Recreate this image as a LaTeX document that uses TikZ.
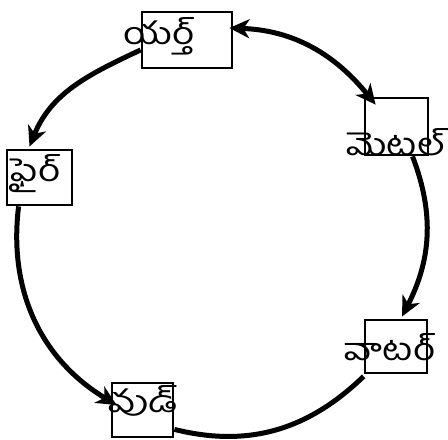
\documentclass[tikz,border=0pt]{standalone}
\usepackage{fontspec}
\newfontfamily\telugu[Script=Telugu,FakeStretch=1.25]{Hind Guntur}
\usetikzlibrary{arrows.meta,calc}
\begin{document}
\begin{tikzpicture}[x=1bp,y=1bp,
  box/.style={draw,line width=2.8bp,inner sep=0pt,minimum width=#1},
  lbl/.style={inner sep=0pt,font=\telugu\fontsize{31}{33}\selectfont},
  conn/.style={line width=5bp,-{Stealth[length=20bp,width=19bp,inset=6bp]}},
  plain/.style={line width=5bp}]
\useasboundingbox (0,0) rectangle (448,440);
% boxes
\node[box=90bp,minimum height=56bp] (earth) at (187,400) {};
\node[box=63bp,minimum height=57bp] (metal) at (396.5,313.5) {};
\node[box=62bp,minimum height=53bp] (water) at (396,93.5) {};
\node[box=61bp,minimum height=54bp] (wood) at (142.5,30) {};
\node[box=65bp,minimum height=55bp] (fire) at (39.5,262.5) {};
% labels
\node[lbl] (earthT) at (159,404) {యర్త్};
\node[lbl] (metalT) at (396,298) {మెటల్};
\node[lbl] (waterT) at (390,93) {వాటర్};
\node[lbl] (woodT) at (143,39) {వుడ్};
\node[lbl] (fireT) at (35,266) {ఫైర్};
% connectors
\draw[line width=5bp,{Stealth[length=20bp,width=19bp,inset=6bp]}-{Stealth[length=20bp,width=19bp,inset=6bp]}]
  ($(earth.east)+(-4,12)$) to[out=-2,in=129] ($(metal.north west)+(12,-8)$);
\draw[conn] ($(metal.south)+(16,0)$) to[out=-69,in=63] ($(water.north)+(6,2)$);
\draw[conn] ($(earth.west)+(0,-10)$) to[out=205,in=68] ($(fire.north)+(-10,2)$);
\draw[conn] ($(fire.south west)+(13,0)$) to[out=-97,in=149] ($(wood.west)+(6,5)$);
\draw[plain] ($(wood.south east)+(0,9)$) to[out=-14,in=-136] ($(water.south west)+(0,-2)$);
\end{tikzpicture}
\end{document}
